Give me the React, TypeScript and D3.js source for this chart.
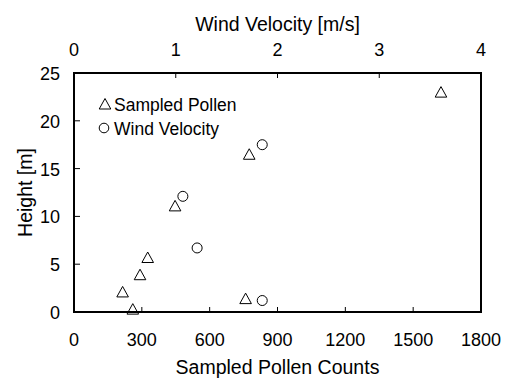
import React from 'react';
import * as d3 from 'd3';

// sampled pollen (bottom axis) vs height
const pollenCounts = [260, 215, 292, 326, 447, 775, 759, 1623];
const pollenHeights = [0.3, 2.1, 3.9, 5.7, 11.1, 16.5, 1.4, 23.0];
// wind velocity (top axis) vs height
const windSpeeds = [1.85, 1.07, 1.21, 1.85];
const windHeights = [17.5, 12.1, 6.7, 1.2];

const countTicks = [0, 300, 600, 900, 1200, 1500, 1800];
const windTicks = [0, 1, 2, 3, 4];
const heightTicks = [0, 5, 10, 15, 20, 25];

const W = 507, H = 378;
const margin = {top: 73, right: 26, bottom: 66, left: 74};
const font = '"Liberation Sans", Arial, sans-serif';

export default function App() {
  const innerW = W - margin.left - margin.right;
  const innerH = H - margin.top - margin.bottom;
  const x = d3.scaleLinear().domain([0, 1800]).range([0, innerW]);
  const xTop = d3.scaleLinear().domain([0, 4]).range([0, innerW]);
  const y = d3.scaleLinear().domain([0, 25]).range([innerH, 0]);
  const tri = 'M0,-5.5L5.8,5L-5.8,5Z';
  const tickLen = 5;

  return (
    <svg width={W} height={H} style={{position: 'absolute', left: 0, top: 0, background: '#fff'}}
      fontFamily={font}>
      <g transform={`translate(${margin.left},${margin.top})`}>
        {/* inward ticks */}
        {countTicks.map(t => (
          <line key={'b' + t} x1={x(t)} x2={x(t)} y1={innerH} y2={innerH - tickLen} stroke="#000" strokeWidth={1} />
        ))}
        {windTicks.map(t => (
          <line key={'t' + t} x1={xTop(t)} x2={xTop(t)} y1={0} y2={tickLen} stroke="#000" strokeWidth={1} />
        ))}
        {heightTicks.map(t => (
          <line key={'l' + t} x1={0} x2={tickLen + 1} y1={y(t)} y2={y(t)} stroke="#000" strokeWidth={1} />
        ))}
        <rect x={0} y={0} width={innerW} height={innerH} fill="none" stroke="#000" strokeWidth={2} />

        {/* tick labels */}
        {countTicks.map(t => (
          <text key={'bl' + t} x={x(t)} y={innerH + 34} textAnchor="middle" fontSize={18}>{t}</text>
        ))}
        {windTicks.map(t => (
          <text key={'tl' + t} x={xTop(t)} y={-17} textAnchor="middle" fontSize={18}>{t}</text>
        ))}
        {heightTicks.map(t => (
          <text key={'ll' + t} x={-14} y={y(t) + 7} textAnchor="end" fontSize={18}>{t}</text>
        ))}

        {/* data */}
        {pollenCounts.map((c, i) => (
          <path key={'p' + i} d={tri} transform={`translate(${x(c)},${y(pollenHeights[i])})`}
            fill="none" stroke="#000" strokeWidth={1} />
        ))}
        {windSpeeds.map((v, i) => (
          <circle key={'w' + i} cx={xTop(v)} cy={y(windHeights[i])} r={5} fill="none" stroke="#000" strokeWidth={1} />
        ))}

        {/* legend */}
        <path d={tri} transform={`translate(31,31)`} fill="none" stroke="#000" strokeWidth={1} />
        <text x={40} y={38} fontSize={17.5}>Sampled Pollen</text>
        <circle cx={30} cy={55} r={4.8} fill="none" stroke="#000" strokeWidth={1} />
        <text x={40} y={62} fontSize={17.5}>Wind Velocity</text>
      </g>

      {/* axis titles */}
      <text x={margin.left + innerW / 2} y={31} textAnchor="middle" fontSize={19.5}>Wind Velocity [m/s]</text>
      <text x={margin.left + innerW / 2} y={374} textAnchor="middle" fontSize={19.5}>Sampled Pollen Counts</text>
      <text transform={`translate(32,${margin.top + innerH / 2}) rotate(-90)`} textAnchor="middle" fontSize={19.5}>Height [m]</text>
    </svg>
  );
}
